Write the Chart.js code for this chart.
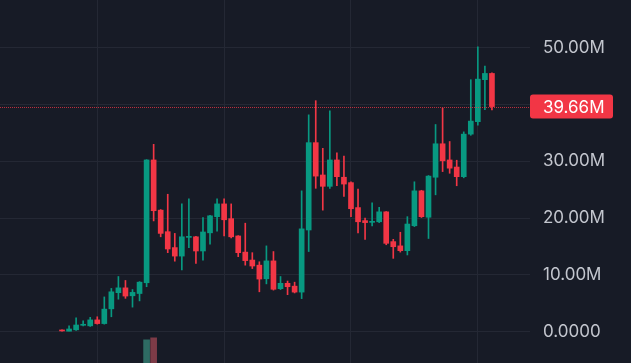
<!DOCTYPE html>
<html lang="fr">
<head>
<meta charset="utf-8">
<title>Graphique en chandeliers</title>
<script src="https://cdn.jsdelivr.net/npm/chart.js@4.4.1/dist/chart.umd.min.js"></script>
<style>
    html, body { margin: 0; padding: 0; background: #171b26; overflow: hidden; }
    #wrap { width: 631px; height: 363px; position: relative; }
</style>
</head>
<body>
<div id="wrap"><canvas id="candleChart"></canvas></div>
<script>
// Cours en millions, une bougie par période
const opens  = [0.25, 0.05, 0.3, 1.1, 1.0, 2.05, 1.4, 4.0, 6.85, 7.7, 6.3, 6.7, 8.6, 30.25, 21.4, 17.6, 14.8, 13.3, 16.6, 16.7, 14.2, 17.4, 20.25, 22.5, 19.9, 16.85, 14.0, 12.6, 11.7, 9.3, 12.45, 7.55, 8.5, 8.0, 6.95, 17.9, 33.3, 27.6, 25.6, 30.25, 27.2, 26.25, 21.85, 19.55, 19.25, 19.35, 21.1, 15.85, 15.1, 14.25, 18.65, 24.8, 20.15, 27.2, 33.1, 30.25, 29.0, 27.3, 34.8, 37.0, 44.4, 45.5];
const highs  = [0.3, 1.0, 2.4, 1.9, 2.5, 2.6, 6.1, 7.6, 9.7, 9.0, 7.4, 8.8, 30.3, 33.0, 21.5, 24.2, 17.3, 22.5, 23.4, 16.8, 20.1, 20.5, 23.4, 23.4, 22.5, 16.9, 19.1, 13.9, 12.3, 15.1, 14.1, 9.7, 8.9, 8.7, 24.8, 38.2, 40.7, 32.3, 38.9, 31.5, 30.95, 26.4, 25.1, 20.0, 22.7, 21.9, 21.15, 16.25, 17.5, 20.25, 26.4, 24.9, 27.5, 36.5, 39.4, 33.5, 30.2, 35.2, 44.4, 50.2, 46.8, 45.6];
const lows   = [0.05, 0.0, 0.2, 1.0, 0.9, 1.3, 1.3, 2.6, 5.7, 5.85, 4.3, 5.4, 7.9, 19.5, 16.7, 13.9, 12.4, 10.85, 14.8, 12.0, 12.6, 15.4, 17.7, 16.85, 16.5, 13.2, 11.7, 11.1, 7.0, 8.4, 7.3, 7.4, 6.5, 6.8, 5.8, 14.1, 25.25, 21.4, 25.25, 25.7, 23.8, 20.25, 17.4, 16.25, 18.6, 19.2, 15.3, 12.9, 14.0, 13.5, 18.5, 20.1, 16.4, 24.1, 28.2, 27.9, 25.7, 27.1, 34.6, 36.4, 39.1, 39.06];
const closes = [0.1, 0.45, 1.15, 1.25, 2.05, 1.4, 3.95, 7.0, 7.7, 6.25, 6.9, 8.7, 30.25, 21.3, 17.3, 14.55, 13.3, 16.7, 16.7, 14.2, 17.55, 20.4, 22.5, 19.7, 16.7, 13.9, 12.5, 11.55, 9.25, 12.45, 7.45, 8.5, 7.9, 6.95, 18.1, 33.3, 27.4, 25.6, 30.25, 27.3, 26.0, 21.65, 19.35, 19.2, 19.4, 21.1, 15.55, 14.95, 14.25, 18.95, 24.8, 20.25, 27.4, 33.1, 30.1, 28.8, 27.3, 34.8, 37.1, 44.5, 45.5, 39.66];
// Volumes (unités arbitraires) : seul le pic du milieu dépasse le bas de l'image
const volumes = [2, 4, 6, 5, 7, 6, 14, 22, 12, 11, 9, 15, 112.7, 113.8, 40, 38, 25, 36, 30, 22, 26, 28, 30, 27, 24, 20, 22, 14, 18, 20, 19, 9, 7, 8, 62, 95, 70, 45, 60, 34, 28, 32, 26, 14, 16, 15, 30, 18, 14, 30, 44, 36, 48, 66, 58, 30, 26, 55, 50, 85, 40, 45];

const yTickValues = [0, 10, 20, 30, 40, 50];
const xGridValues = [5, 23, 41, 59];
const lastPrice = 39.66;

const CandleChart = {
    chart: null,

    colors: {
        bg: '#171b26',
        grid: '#242834',
        text: '#c3c6ce',
        up: '#089981',
        down: '#f23645',
        volUp: '#2e6b63',
        volDown: '#7d3b47'
    },

    /**
     * Fond, ligne du dernier prix et étiquette rouge
     */
    overlayPlugin: {
        id: 'overlay',
        beforeDraw: function(chart) {
            const ctx = chart.ctx;
            ctx.save();
            ctx.fillStyle = CandleChart.colors.bg;
            ctx.fillRect(0, 0, chart.width, chart.height);
            ctx.restore();
        },
        afterDatasetsDraw: function(chart) {
            const ctx = chart.ctx;
            const area = chart.chartArea;
            const y = Math.round(chart.scales.y.getPixelForValue(lastPrice)) + 0.5;
            ctx.save();
            ctx.strokeStyle = 'rgba(242, 54, 69, 0.75)';
            ctx.lineWidth = 1;
            ctx.setLineDash([1, 1]);
            ctx.beginPath();
            ctx.moveTo(area.left, y);
            ctx.lineTo(area.right, y);
            ctx.stroke();
            ctx.restore();
        },
        afterDraw: function(chart) {
            const ctx = chart.ctx;
            const area = chart.chartArea;
            const y = chart.scales.y.getPixelForValue(lastPrice);
            const h = 24;
            const w = 83;
            ctx.save();
            ctx.fillStyle = CandleChart.colors.down;
            ctx.beginPath();
            ctx.roundRect(area.right, y - h / 2, w, h, 3);
            ctx.fill();
            ctx.fillStyle = '#ffffff';
            ctx.font = '17px Inter, "Noto Sans", sans-serif';
            ctx.textAlign = 'left';
            ctx.textBaseline = 'middle';
            ctx.fillText(lastPrice.toFixed(2) + 'M', area.right + 13, y + 1);
            ctx.restore();
        }
    },

    init: function() {
        const canvas = document.getElementById('candleChart');
        if (!canvas) return;
        const ctx = canvas.getContext('2d');
        const c = this.colors;

        const idx = opens.map((o, i) => i);
        const isUp = idx.map(i => closes[i] >= opens[i]);
        const candleColors = isUp.map(up => up ? c.up : c.down);
        const volColors = isUp.map(up => up ? c.volUp : c.volDown);

        this.chart = new Chart(ctx, {
            type: 'bar',
            data: {
                datasets: [
                    {
                        label: 'Corps',
                        data: idx.map(i => ({ x: i, y: [opens[i], closes[i]] })),
                        backgroundColor: candleColors,
                        barThickness: 5,
                        minBarLength: 1,
                        grouped: false,
                        yAxisID: 'y',
                        order: 1
                    },
                    {
                        label: 'Mèches',
                        data: idx.map(i => ({ x: i, y: [lows[i], highs[i]] })),
                        backgroundColor: candleColors,
                        barThickness: 1,
                        grouped: false,
                        yAxisID: 'y',
                        order: 2
                    },
                    {
                        label: 'Volume',
                        data: idx.map(i => ({ x: i, y: volumes[i] })),
                        backgroundColor: volColors,
                        barThickness: 6,
                        grouped: false,
                        yAxisID: 'yVol',
                        order: 3
                    }
                ]
            },
            options: {
                responsive: true,
                maintainAspectRatio: false,
                animation: false,
                layout: { padding: 0 },
                plugins: {
                    legend: { display: false },
                    tooltip: { enabled: false }
                },
                scales: {
                    x: {
                        type: 'linear',
                        min: -8.8,
                        max: 66.4,
                        offset: false,
                        grid: {
                            color: c.grid,
                            offset: false,
                            drawTicks: false
                        },
                        border: { display: false },
                        ticks: { display: false },
                        afterBuildTicks: function(scale) {
                            scale.ticks = xGridValues.map(v => ({ value: v }));
                        },
                        afterFit: function(scale) {
                            scale.height = 0;
                        }
                    },
                    y: {
                        type: 'linear',
                        position: 'right',
                        min: -5.55,
                        max: 58.45,
                        grid: {
                            color: c.grid,
                            drawTicks: false
                        },
                        border: { display: false },
                        ticks: {
                            color: c.text,
                            padding: 13,
                            font: {
                                family: 'Inter, "Noto Sans", sans-serif',
                                size: 17
                            },
                            callback: function(value) {
                                if (value === 0) return '0.0000';
                                return value.toFixed(2) + 'M';
                            }
                        },
                        afterBuildTicks: function(scale) {
                            scale.ticks = yTickValues.map(v => ({ value: v }));
                        },
                        afterFit: function(scale) {
                            scale.width = 101;
                            scale.paddingTop = 0;
                            scale.paddingBottom = 0;
                        }
                    },
                    yVol: {
                        type: 'linear',
                        display: false,
                        min: 100,
                        max: 300
                    }
                }
            },
            plugins: [this.overlayPlugin]
        });
    }
};

CandleChart.init();
</script>
</body>
</html>
